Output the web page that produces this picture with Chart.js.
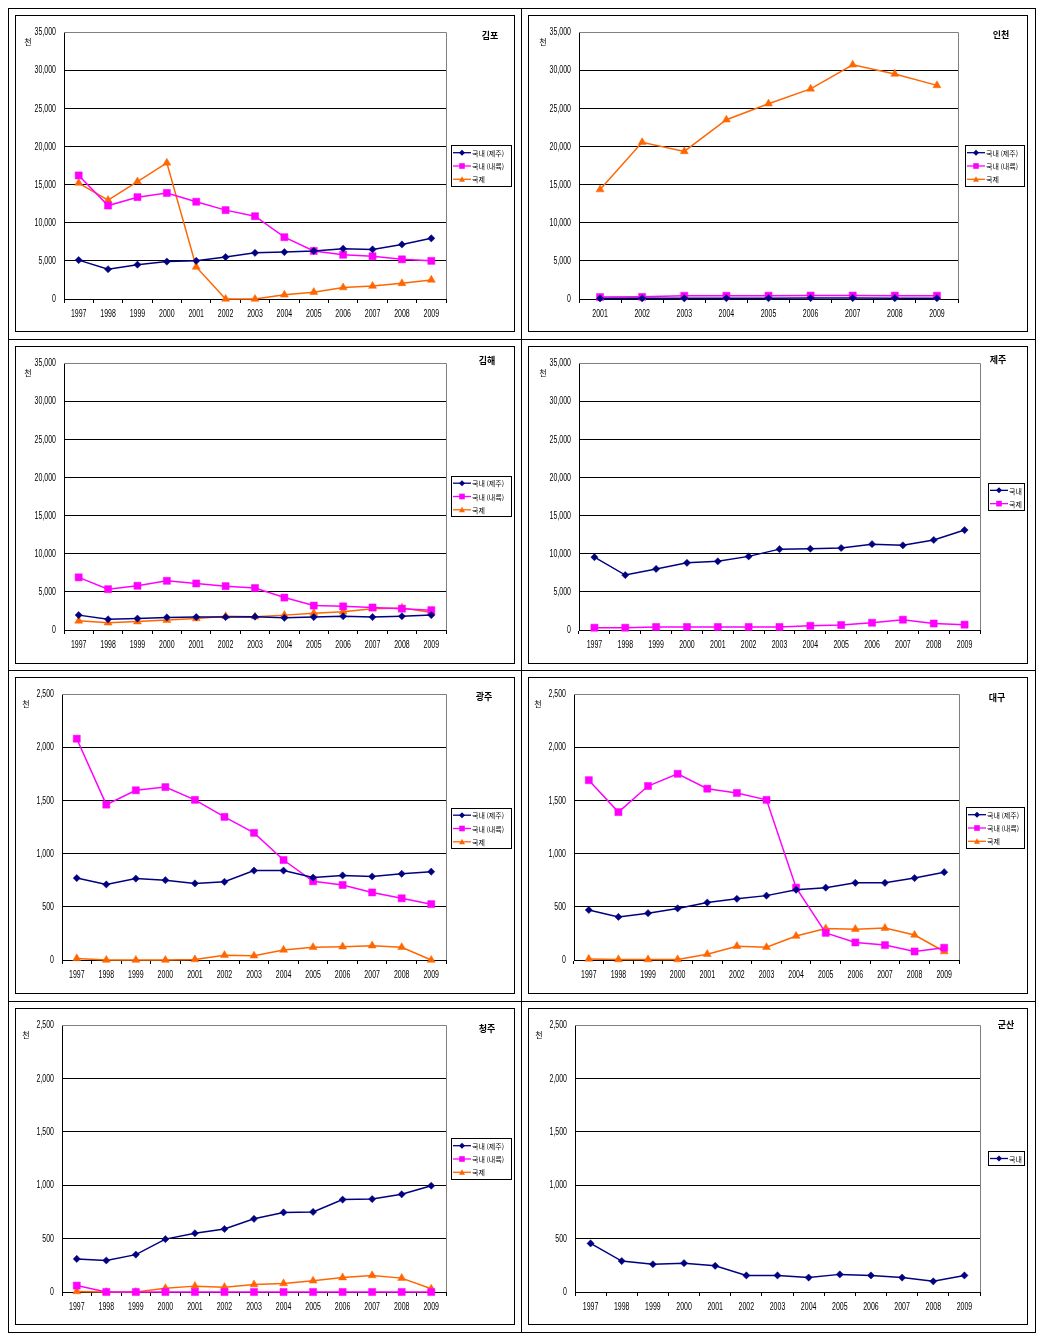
<!DOCTYPE html>
<html lang="ko">
<head>
<meta charset="UTF-8">
<title>공항별 여객 추이</title>
<script src="https://cdn.jsdelivr.net/npm/chart.js"></script>
<style>
  body { margin: 0; background: #fff; }
  .frame { position: absolute; border: 1px solid #000; box-sizing: border-box; }
  .rule { position: absolute; background: #000; }
  .box { position: absolute; border: 1px solid #000; background: #fff; }
  .box canvas { display: block; }
</style>
</head>
<body>
<script>
// ---- data (천 명) ----
const years = ['1997', '1998', '1999', '2000', '2001', '2002', '2003', '2004', '2005', '2006', '2007', '2008', '2009'];
const incheonYears = ['2001', '2002', '2003', '2004', '2005', '2006', '2007', '2008', '2009'];

const gimpoJeju   = [5100, 3900, 4500, 4900, 5000, 5500, 6050, 6150, 6300, 6600, 6500, 7150, 7950];
const gimpoInland = [16200, 12250, 13350, 13900, 12750, 11650, 10850, 8100, 6300, 5800, 5600, 5200, 5000];
const gimpoIntl   = [15200, 12950, 15400, 17850, 4200, 0, 0, 550, 900, 1500, 1700, 2050, 2500];

const incheonJeju   = [80, 90, 90, 100, 100, 120, 120, 110, 100];
const incheonInland = [250, 280, 420, 420, 430, 450, 450, 440, 430];
const incheonIntl   = [14350, 20550, 19350, 23500, 25600, 27550, 30700, 29500, 28000];

const gimhaeJeju   = [1950, 1400, 1500, 1650, 1700, 1700, 1750, 1600, 1700, 1800, 1700, 1800, 1950];
const gimhaeInland = [6900, 5350, 5800, 6450, 6100, 5750, 5500, 4250, 3200, 3100, 2950, 2800, 2600];
const gimhaeIntl   = [1200, 950, 1100, 1300, 1500, 1800, 1750, 1950, 2200, 2400, 2800, 2900, 2300];

const jejuDomestic = [9550, 7200, 8000, 8800, 9000, 9650, 10600, 10650, 10750, 11250, 11100, 11800, 13100];
const jejuIntl     = [300, 300, 400, 400, 400, 400, 400, 550, 650, 950, 1350, 850, 700];

const gwangjuJeju   = [770, 710, 765, 750, 720, 735, 840, 840, 775, 795, 785, 810, 830];
const gwangjuInland = [2080, 1460, 1595, 1625, 1505, 1345, 1195, 940, 740, 705, 635, 580, 525];
const gwangjuIntl   = [15, 0, 0, 0, 5, 45, 40, 95, 120, 125, 135, 120, 0];

const daeguJeju   = [470, 405, 440, 485, 540, 575, 605, 660, 680, 725, 725, 770, 825];
const daeguInland = [1690, 1390, 1635, 1750, 1610, 1570, 1505, 680, 255, 165, 140, 80, 115];
const daeguIntl   = [10, 5, 5, 5, 55, 130, 120, 225, 295, 290, 300, 235, 80];

const cheongjuJeju   = [310, 295, 350, 495, 550, 590, 685, 745, 750, 865, 870, 915, 995];
const cheongjuInland = [60, 0, 0, 0, 0, 0, 0, 0, 0, 0, 0, 0, 0];
const cheongjuIntl   = [5, 0, 0, 35, 55, 45, 70, 80, 105, 135, 155, 130, 30];

const gunsanDomestic = [455, 290, 260, 270, 245, 155, 155, 135, 165, 155, 135, 100, 155];

// ---- styles ----
const DIGITS = "'Liberation Sans', Arial, sans-serif";
const KR = "'Noto Sans CJK KR', sans-serif";
const NAVY = { color: '#000080', shape: 'diamond' };
const PINK = { color: '#FF00FF', shape: 'square' };
const ORANGE = { color: '#FF6600', shape: 'triangle' };
const pointStyleOf = { diamond: 'rectRot', square: 'rect', triangle: 'triangle' };
const radiusOf = { diamond: 3.6, square: 5, triangle: 4.6 };

// 패널 배치 (페이지 좌표): box = 차트 테두리, plot = 그림 영역, legend = 범례 상자
const panels = [
  { title: '김포', labels: years, max: 35000, step: 5000,
    series: [['국내 (제주)', gimpoJeju, NAVY], ['국내 (내륙)', gimpoInland, PINK], ['국제', gimpoIntl, ORANGE]],
    box: [15, 15, 514, 331], plot: [64, 32, 446, 299], legend: [451, 145, 511, 186], titleAt: [490, 36] },
  { title: '인천', labels: incheonYears, max: 35000, step: 5000,
    series: [['국내 (제주)', incheonJeju, NAVY], ['국내 (내륙)', incheonInland, PINK], ['국제', incheonIntl, ORANGE]],
    box: [528, 15, 1027, 331], plot: [579, 32, 958, 299], legend: [965, 145, 1024, 186], titleAt: [1001, 35] },
  { title: '김해', labels: years, max: 35000, step: 5000,
    series: [['국내 (제주)', gimhaeJeju, NAVY], ['국내 (내륙)', gimhaeInland, PINK], ['국제', gimhaeIntl, ORANGE]],
    box: [15, 346, 514, 663], plot: [64, 363, 446, 630], legend: [451, 476, 511, 516], titleAt: [487, 361] },
  { title: '제주', labels: years, max: 35000, step: 5000,
    series: [['국내', jejuDomestic, NAVY], ['국제', jejuIntl, PINK]],
    box: [528, 346, 1027, 663], plot: [579, 363, 980, 630], legend: [988, 483, 1024, 510], titleAt: [998, 360] },
  { title: '광주', labels: years, max: 2500, step: 500,
    series: [['국내 (제주)', gwangjuJeju, NAVY], ['국내 (내륙)', gwangjuInland, PINK], ['국제', gwangjuIntl, ORANGE]],
    box: [15, 677, 514, 993], plot: [62, 694, 446, 960], legend: [451, 808, 511, 848], titleAt: [484, 697] },
  { title: '대구', labels: years, max: 2500, step: 500,
    series: [['국내 (제주)', daeguJeju, NAVY], ['국내 (내륙)', daeguInland, PINK], ['국제', daeguIntl, ORANGE]],
    box: [528, 677, 1027, 993], plot: [574, 694, 959, 960], legend: [966, 807, 1024, 848], titleAt: [997, 698] },
  { title: '청주', labels: years, max: 2500, step: 500,
    series: [['국내 (제주)', cheongjuJeju, NAVY], ['국내 (내륙)', cheongjuInland, PINK], ['국제', cheongjuIntl, ORANGE]],
    box: [15, 1008, 514, 1324], plot: [62, 1025, 446, 1292], legend: [451, 1138, 511, 1179], titleAt: [487, 1029] },
  { title: '군산', labels: years, max: 2500, step: 500,
    series: [['국내', gunsanDomestic, NAVY]],
    box: [528, 1008, 1027, 1324], plot: [575, 1025, 980, 1292], legend: [988, 1151, 1024, 1165], titleAt: [1006, 1025] }
];

// ---- table frame ----
function addDiv(cls, l, t, w, h) {
  const d = document.createElement('div');
  d.className = cls;
  Object.assign(d.style, { left: l + 'px', top: t + 'px', width: w + 'px', height: h + 'px' });
  document.body.appendChild(d);
  return d;
}
addDiv('frame', 8, 8, 1028, 1325);
addDiv('rule', 521, 8, 1, 1325);
[339, 670, 1001].forEach(y => addDiv('rule', 8, y, 1028, 1));

function marker(ctx, shape, x, y, r) {
  ctx.beginPath();
  if (shape === 'diamond') {
    ctx.moveTo(x, y - r); ctx.lineTo(x + r, y); ctx.lineTo(x, y + r); ctx.lineTo(x - r, y);
  } else if (shape === 'square') {
    ctx.rect(x - r, y - r, 2 * r, 2 * r);
  } else {
    ctx.moveTo(x, y - r); ctx.lineTo(x + r, y + r * 0.8); ctx.lineTo(x - r, y + r * 0.8);
  }
  ctx.closePath();
  ctx.fill();
}

// 좁은 글꼴 느낌으로 가로 압축해서 쓰기
function narrowText(ctx, text, x, y, align) {
  ctx.save();
  ctx.translate(x, y);
  ctx.scale(0.7, 1);
  ctx.textAlign = align;
  ctx.fillText(text, 0, 0);
  ctx.restore();
}

const panelDecor = {
  id: 'panelDecor',
  beforeDatasetsDraw(chart) {
    const { ctx, chartArea: a } = chart;
    ctx.save();
    ctx.strokeStyle = '#808080';
    ctx.lineWidth = 1;
    ctx.beginPath();
    ctx.moveTo(a.left, Math.round(a.top) + 0.5);
    ctx.lineTo(Math.round(a.right) + 0.5, Math.round(a.top) + 0.5);
    ctx.lineTo(Math.round(a.right) + 0.5, a.bottom);
    ctx.stroke();
    ctx.restore();
  },
  afterDraw(chart, args, o) {
    const ctx = chart.ctx;
    const a = chart.chartArea;
    ctx.save();
    // 축 눈금 글자
    ctx.fillStyle = '#000';
    ctx.font = '10px ' + DIGITS;
    ctx.textBaseline = 'middle';
    const ys = chart.scales.y;
    ys.ticks.forEach(t => {
      narrowText(ctx, t.value.toLocaleString('en-US'), a.left - 8, ys.getPixelForValue(t.value) + 0.5, 'right');
    });
    const xs = chart.scales.x;
    chart.data.labels.forEach((lab, i) => {
      narrowText(ctx, lab, xs.getPixelForValue(i), a.bottom + 15, 'center');
    });
    // 단위
    ctx.font = '8px ' + KR;
    ctx.textAlign = 'center';
    ctx.fillText('천', o.unit[0], o.unit[1]);
    // 제목
    ctx.font = 'bold 9px ' + KR;
    ctx.fillText(o.title, o.titleAt[0], o.titleAt[1]);
    // 범례
    const [lx, ly, lw, lh] = o.legend;
    ctx.strokeStyle = '#000';
    ctx.lineWidth = 1;
    ctx.strokeRect(lx + 0.5, ly + 0.5, lw, lh);
    const n = o.items.length;
    const rowH = 13.3;
    const first = ly + (lh - n * rowH) / 2 + rowH / 2 + 0.5;
    o.items.forEach((it, i) => {
      const y = first + i * rowH;
      ctx.strokeStyle = it.color;
      ctx.fillStyle = it.color;
      ctx.lineWidth = 1.3;
      ctx.beginPath();
      ctx.moveTo(lx + 2, y); ctx.lineTo(lx + 20, y);
      ctx.stroke();
      marker(ctx, it.shape, lx + 11, y, it.shape === 'square' ? 2.8 : 3);
      ctx.fillStyle = '#000';
      ctx.font = '7px ' + KR;
      ctx.textAlign = 'left';
      ctx.fillText(it.label, lx + 21, y + 0.5);
    });
    ctx.restore();
  }
};

panels.forEach(p => {
  const [bl, bt, br, bb] = p.box;
  const [pl, pt, pr, pb] = p.plot;
  const ox = bl + 1, oy = bt + 1;
  const cw = br - bl - 1, ch = bb - bt - 1;
  const box = addDiv('box', bl, bt, cw, ch);
  const canvas = document.createElement('canvas');
  canvas.width = cw;
  canvas.height = ch;
  box.appendChild(canvas);

  const datasets = p.series.map(([label, values, st]) => ({
    label: label,
    data: values,
    borderColor: st.color,
    backgroundColor: st.color,
    borderWidth: 1.5,
    tension: 0,
    pointStyle: pointStyleOf[st.shape],
    pointRadius: radiusOf[st.shape],
    pointBorderWidth: 0.5,
    pointBackgroundColor: st.color,
    pointBorderColor: st.color,
    clip: false
  }));

  new Chart(canvas, {
    type: 'line',
    data: { labels: p.labels, datasets: datasets },
    plugins: [panelDecor],
    options: {
      responsive: false,
      animation: false,
      layout: { padding: { top: pt - oy, right: ox + cw - pr, left: 0, bottom: 0 } },
      plugins: {
        legend: { display: false },
        tooltip: { enabled: false },
        panelDecor: {
          title: p.title,
          titleAt: [p.titleAt[0] - ox, p.titleAt[1] - oy],
          unit: [pl - 36 - ox, pt + 10 - oy],
          legend: [p.legend[0] - ox, p.legend[1] - oy, p.legend[2] - p.legend[0], p.legend[3] - p.legend[1]],
          items: p.series.map(([label, , st]) => ({ label: label, color: st.color, shape: st.shape }))
        }
      },
      scales: {
        x: {
          offset: true,
          grid: { offset: true, drawOnChartArea: false, color: '#000', tickLength: 4 },
          border: { color: '#000' },
          ticks: { display: false, autoSkip: false },
          afterFit: s => { s.height = oy + ch - pb; }
        },
        y: {
          min: 0,
          max: p.max,
          ticks: { display: false, stepSize: p.step },
          grid: { drawTicks: false, color: c => (c.tick && c.tick.value === p.max) ? 'rgba(0,0,0,0)' : '#000' },
          border: { color: '#000' },
          afterFit: s => { s.width = pl - ox; }
        }
      }
    }
  });
});
</script>
</body>
</html>
